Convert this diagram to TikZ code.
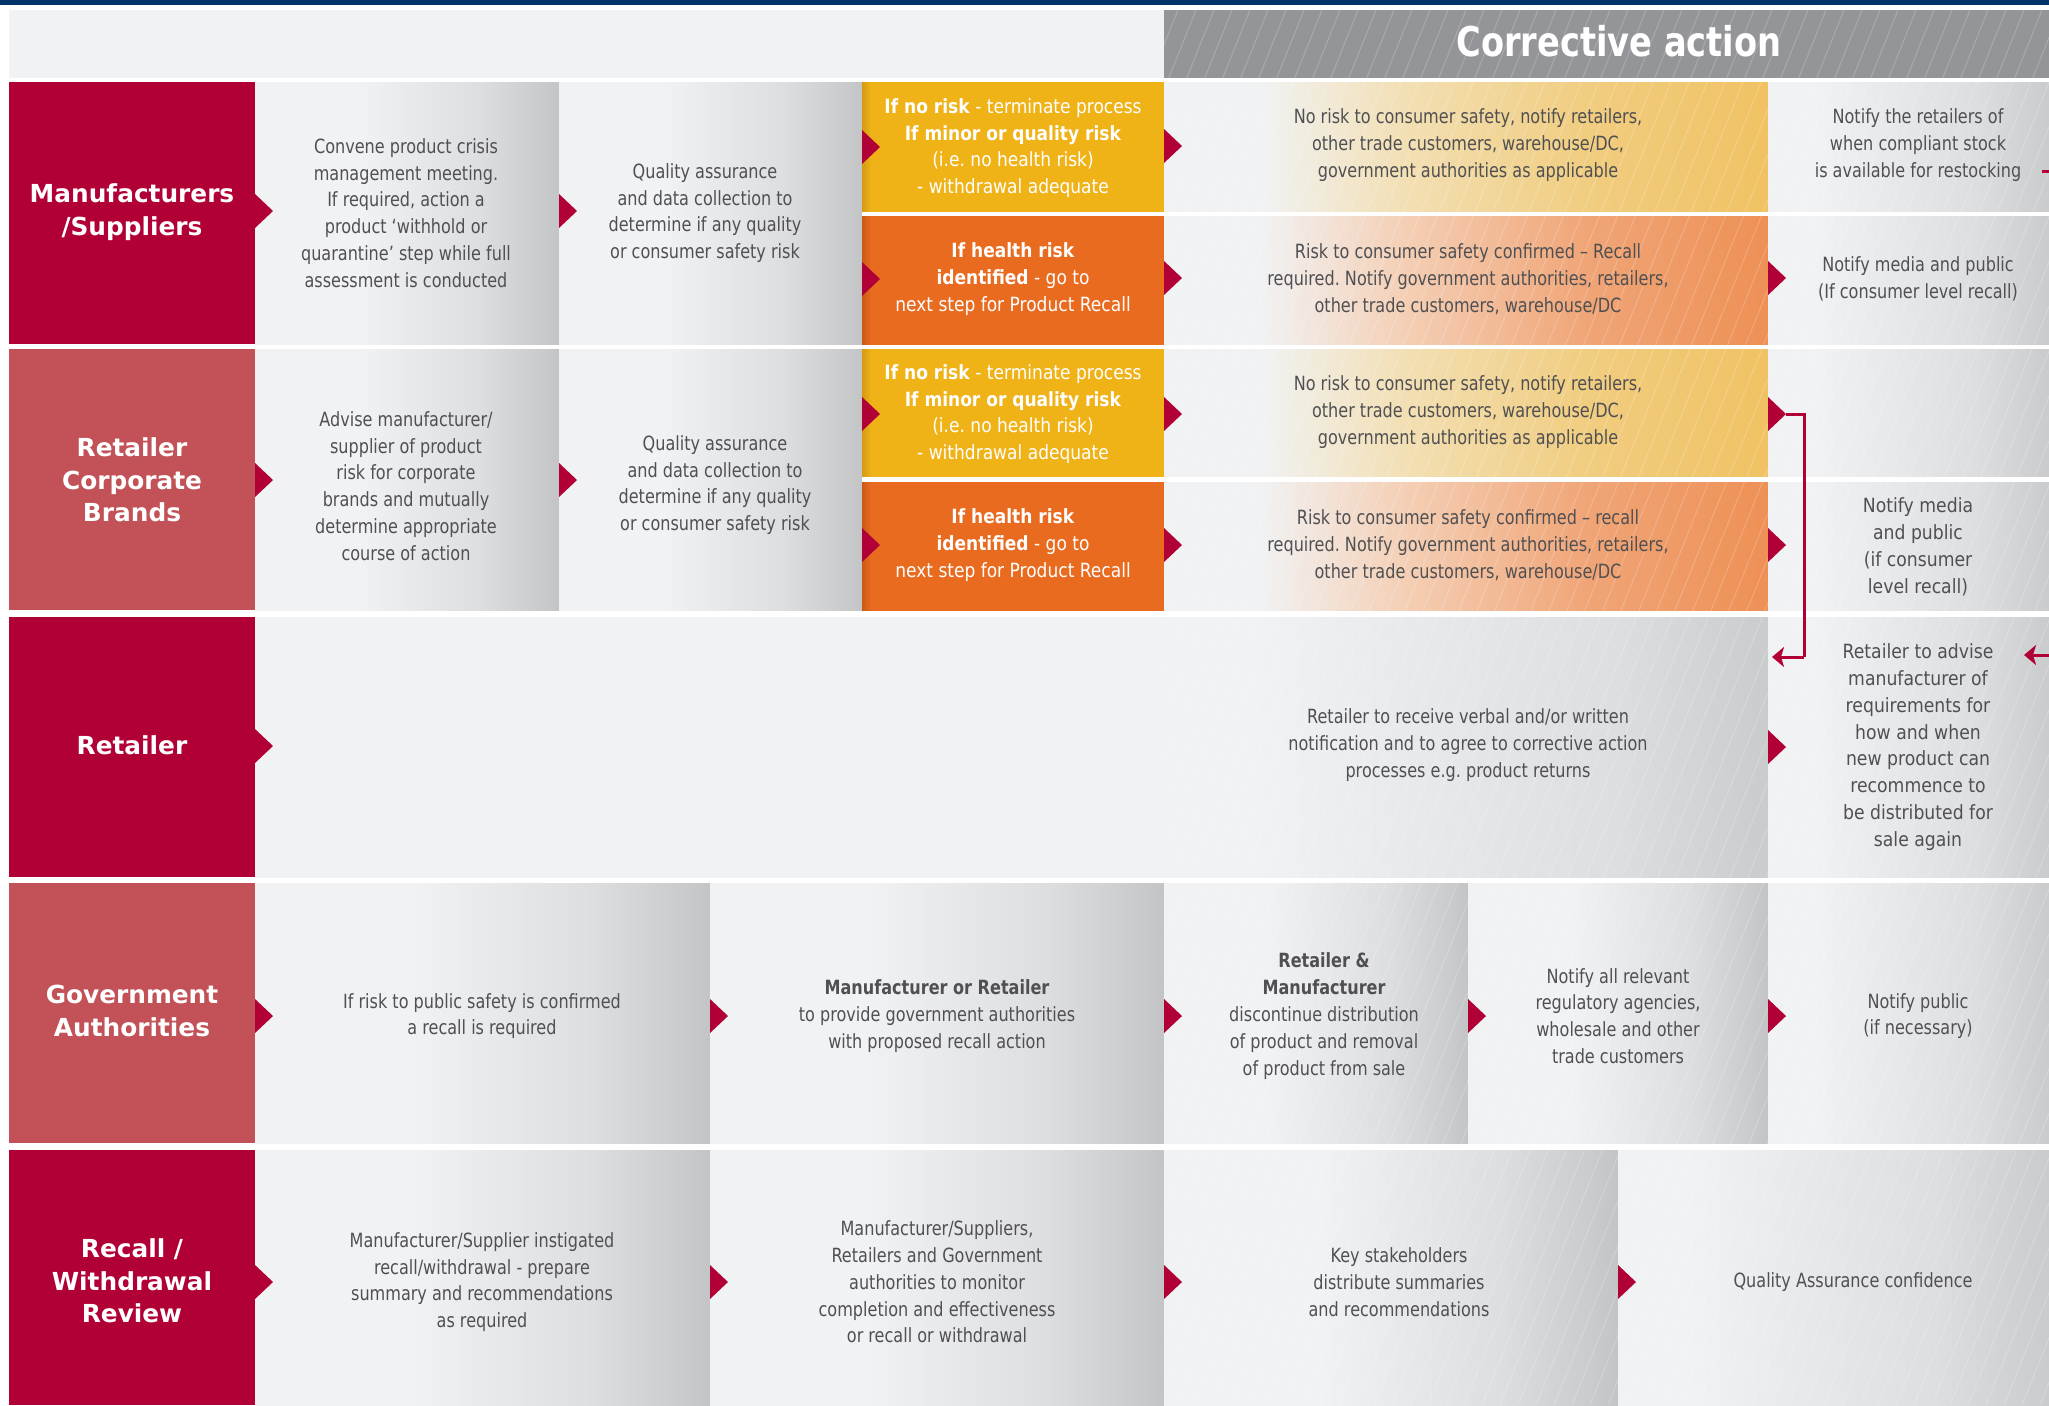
\documentclass[tikz,border=0pt]{standalone}
\usepackage{fontspec}
\setmainfont{DejaVu Sans}
\newfontfamily\bodyf{DejaVu Sans}[FakeStretch=0.82]
\newfontfamily\boxf{DejaVu Sans}[FakeStretch=0.87]
\newfontfamily\widef{DejaVu Sans}[FakeStretch=0.88]
\frenchspacing
\usetikzlibrary{fit,arrows.meta}
\definecolor{navy}{HTML}{003468}
\definecolor{crim}{HTML}{B10036}
\definecolor{lred}{HTML}{C25257}
\definecolor{hdgray}{HTML}{939598}
\definecolor{hdlight}{HTML}{F1F2F3}
\definecolor{tgray}{HTML}{505052}
\definecolor{yel}{HTML}{EFB217}
\definecolor{yeld}{HTML}{D49B12}
\definecolor{ora}{HTML}{E96B1F}
\definecolor{orad}{HTML}{C95A19}
\definecolor{gA}{HTML}{F1F2F3}
\definecolor{gB}{HTML}{DDDEE0}
\definecolor{gC}{HTML}{CACBCD}
\definecolor{gD}{HTML}{C3C4C6}
\definecolor{yA}{HTML}{F2DFB3}
\definecolor{yB}{HTML}{F1CD80}
\definecolor{yC}{HTML}{F0C263}
\definecolor{oA}{HTML}{F4CFB5}
\definecolor{oB}{HTML}{F0A577}
\definecolor{oC}{HTML}{EE9056}
\pgfdeclarehorizontalshading{grayc}{100bp}{color(0bp)=(gA); color(25bp)=(gA); color(42bp)=(gA); color(62bp)=(gB); color(72bp)=(gC); color(75bp)=(gD); color(100bp)=(gD)}
\pgfdeclarehorizontalshading{sixc}{100bp}{color(0bp)=(gA); color(25bp)=(gA); color(33bp)=(gA); color(62bp)=(gB); color(75bp)=(gC); color(100bp)=(gC)}
\pgfdeclarehorizontalshading{yelc}{100bp}{color(0bp)=(gA); color(25bp)=(gA); color(33bp)=(gA); color(45bp)=(yA); color(60bp)=(yB); color(75bp)=(yC); color(100bp)=(yC)}
\pgfdeclarehorizontalshading{orac}{100bp}{color(0bp)=(gA); color(25bp)=(gA); color(33bp)=(gA); color(45bp)=(oA); color(60bp)=(oB); color(75bp)=(oC); color(100bp)=(oC)}
\pgfdeclarehorizontalshading{retc}{100bp}{color(0bp)=(gA); color(25bp)=(gA); color(58bp)=(gA); color(70bp)=(gB); color(75bp)=(gC); color(100bp)=(gC)}
\pgfdeclarehorizontalshading{yelbox}{100bp}{color(0bp)=(yeld); color(25bp)=(yeld); color(26.5bp)=(yel); color(100bp)=(yel)}
\pgfdeclarehorizontalshading{orabox}{100bp}{color(0bp)=(orad); color(25bp)=(orad); color(26.5bp)=(ora); color(100bp)=(ora)}
\tikzset{
  cellbox/.style={inner sep=0pt, outer sep=0pt, draw=none},
  gcell/.style={cellbox, shade, shading=grayc},
  scell/.style={cellbox, shade, shading=sixc},
  ycell/.style={cellbox, shade, shading=yelc},
  ocell/.style={cellbox, shade, shading=orac},
  rcell/.style={cellbox, shade, shading=retc},
  ybox/.style={cellbox, shade, shading=yelbox},
  obox/.style={cellbox, shade, shading=orabox},
  labdark/.style={cellbox, fill=crim},
  lablight/.style={cellbox, fill=lred},
  labtxt/.style={font=\fontsize{12.4}{16.3}\selectfont\bfseries, text=white, align=center, inner sep=0pt},
  txt/.style={font=\bodyf\fontsize{9.8}{13.4}\selectfont, text=tgray, align=center, inner sep=0pt},
  wtxt/.style={font=\widef\fontsize{9.8}{13.4}\selectfont, text=tgray, align=center, inner sep=0pt},
  btxt/.style={font=\boxf\fontsize{9.8}{13.4}\selectfont, text=white, align=center, inner sep=0pt},
  conn/.style={draw=crim, line width=1.5pt},
  hatchline/.style={draw=white, opacity=0.2, line width=0.5pt}
}
\newcommand\cell[6]{\node[fit={(#2,#3) (#4,#5)}, #6] (#1) {};}
\newcommand\atri[2]{\fill[crim] ({#1},{#2-17}) -- ++(18,17) -- ++(-18,17) -- cycle;}
\begin{document}
\begin{tikzpicture}[x=0.5pt, y=-0.5pt]
\useasboundingbox (0,0) rectangle (2049,1405);
\fill[white] (0,0) rectangle (2049,1405);
% top bar and header
\fill[navy] (0,0) rectangle (2049,5);
\cell{hdl}{9}{10}{1164}{78}{cellbox, fill=hdlight}
\cell{hdg}{1164}{10}{2049}{78}{cellbox, fill=hdgray}
% row 1
\cell{L1}{9}{82}{255}{344}{labdark}
\cell{c12}{255}{82}{559}{344}{gcell}
\cell{c13}{559}{82}{862}{344}{gcell}
\cell{c14y}{862}{82}{1164}{211}{ybox}
\cell{c14o}{862}{216}{1164}{344}{obox}
\cell{c15y}{1164}{82}{1768}{211}{ycell}
\cell{c15o}{1164}{216}{1768}{344}{ocell}
\cell{c16y}{1768}{82}{2049}{211}{scell}
\cell{c16o}{1768}{216}{2049}{344}{scell}
% row 2
\cell{L2}{9}{349}{255}{610}{lablight}
\cell{c22}{255}{349}{559}{610}{gcell}
\cell{c23}{559}{349}{862}{610}{gcell}
\cell{c24y}{862}{349}{1164}{476}{ybox}
\cell{c24o}{862}{482}{1164}{610}{obox}
\cell{c25y}{1164}{349}{1768}{476}{ycell}
\cell{c25o}{1164}{482}{1768}{610}{ocell}
\cell{c26y}{1768}{349}{2049}{476}{scell}
\cell{c26o}{1768}{482}{2049}{610}{scell}
% row 3
\cell{L3}{9}{617}{255}{877}{labdark}
\cell{c32}{255}{617}{1768}{877}{rcell}
\cell{c36}{1768}{617}{2049}{877}{scell}
% row 4
\cell{L4}{9}{883}{255}{1143}{lablight}
\cell{c42}{255}{883}{710}{1143}{gcell}
\cell{c43}{710}{883}{1164}{1143}{gcell}
\cell{c44}{1164}{883}{1468}{1143}{gcell}
\cell{c45}{1468}{883}{1768}{1143}{gcell}
\cell{c46}{1768}{883}{2049}{1143}{scell}
% row 5
\cell{L5}{9}{1150}{255}{1405}{labdark}
\cell{c52}{255}{1150}{710}{1405}{gcell}
\cell{c53}{710}{1150}{1164}{1405}{gcell}
\cell{c54}{1164}{1150}{1618}{1405}{gcell}
\cell{c55}{1618}{1150}{2049}{1405}{scell}
% hatching on the right part
\begin{scope}
\clip (1164,10) rectangle (2049,1405);
\foreach \i in {0,...,80} {\draw[hatchline] ({600+\i*18},1405) -- ++(560,-1395);}
\end{scope}
% arrow triangles
\atri{255}{211}\atri{559}{211}\atri{862}{147}\atri{862}{279}\atri{1164}{146}\atri{1164}{278}\atri{1768}{278}
\atri{255}{480}\atri{559}{480}\atri{862}{414}\atri{862}{545}\atri{1164}{414}\atri{1164}{545}\atri{1768}{414}\atri{1768}{545}
\atri{255}{746}\atri{1768}{747}
\atri{255}{1016}\atri{710}{1016}\atri{1164}{1016}\atri{1468}{1016}\atri{1768}{1016}
\atri{255}{1282}\atri{710}{1282}\atri{1164}{1282}\atri{1618}{1282}
% connector from row 2 to retailer row
\coordinate (k1) at (1786,414);
\coordinate (k2) at (1804,657);
\coordinate (k3) at (1772,657);
\draw[conn] (k1) -| (k2);
\draw[conn, -{Stealth[length=6pt,width=10pt,inset=1.5pt]}] (k2) -- (k3);
% cut-off connectors at right edge
\coordinate (e1) at (2042,171);
\coordinate (e2) at (2049,171);
\coordinate (e3) at (2049,655);
\coordinate (e4) at (2024,655);
\draw[conn] (e1) -- (e2);
\draw[conn, -{Stealth[length=6pt,width=10pt,inset=1.5pt]}] (e3) -- (e4);
% header text
\node[font=\bodyf\fontsize{20.5}{24}\selectfont\bfseries, text=white, inner sep=0pt] (hdt) at (1619,41) {Corrective action};
% labels
\node[labtxt] (l1) at (132,212) {Manufacturers\\/Suppliers};
\node[labtxt] (l2) at (132,480) {Retailer\\Corporate\\Brands};
\node[labtxt] (l3) at (132,745) {Retailer};
\node[labtxt] (l4) at (132,1011) {Government\\Authorities};
\node[labtxt] (l5) at (132,1281) {Recall /\\Withdrawal\\Review};
% row 1 texts
\node[txt] (t12) at (406,213) {Convene product crisis\\management meeting.\\If required, action a\\product ‘withhold or\\quarantine’ step while full\\assessment is conducted};
\node[txt] (t13) at (705,213) {Quality assurance\\and data collection to\\determine if any quality\\or consumer safety risk};
\node[btxt] (t14y) at (1013,148) {\textbf{If no risk} - terminate process\\\textbf{If minor or quality risk}\\(i.e. no health risk)\\- withdrawal adequate};
\node[btxt] (t14o) at (1013,279) {\textbf{If health risk}\\\textbf{identified} - go to\\next step for Product Recall};
\node[txt] (t15y) at (1468,145) {No risk to consumer safety, notify retailers,\\other trade customers, warehouse/DC,\\government authorities as applicable};
\node[txt] (t15o) at (1468,279) {Risk to consumer safety confirmed – Recall\\required. Notify government authorities, retailers,\\other trade customers, warehouse/DC};
\node[txt] (t16y) at (1918,145) {Notify the retailers of\\when compliant stock\\is available for restocking};
\node[txt] (t16o) at (1918,279) {Notify media and public\\(If consumer level recall)};
% row 2 texts
\node[txt] (t22) at (406,486) {Advise manufacturer/\\supplier of product\\risk for corporate\\brands and mutually\\determine appropriate\\course of action};
\node[txt] (t23) at (715,485) {Quality assurance\\and data collection to\\determine if any quality\\or consumer safety risk};
\node[btxt] (t24y) at (1013,414) {\textbf{If no risk} - terminate process\\\textbf{If minor or quality risk}\\(i.e. no health risk)\\- withdrawal adequate};
\node[btxt] (t24o) at (1013,545) {\textbf{If health risk}\\\textbf{identified} - go to\\next step for Product Recall};
\node[txt] (t25y) at (1468,412) {No risk to consumer safety, notify retailers,\\other trade customers, warehouse/DC,\\government authorities as applicable};
\node[txt] (t25o) at (1468,545) {Risk to consumer safety confirmed – recall\\required. Notify government authorities, retailers,\\other trade customers, warehouse/DC};
\node[wtxt] (t26o) at (1918,547) {Notify media\\and public\\(if consumer\\level recall)};
% row 3 texts
\node[txt] (t32) at (1468,745) {Retailer to receive verbal and/or written\\notification and to agree to corrective action\\processes e.g. product returns};
\node[wtxt] (t36) at (1918,747) {Retailer to advise\\manufacturer of\\requirements for\\how and when\\new product can\\recommence to\\be distributed for\\sale again};
% row 4 texts
\node[txt] (t42) at (482,1016) {If risk to public safety is confirmed\\a recall is required};
\node[txt] (t43) at (937,1016) {\textbf{Manufacturer or Retailer}\\to provide government authorities\\with proposed recall action};
\node[txt] (t44) at (1324,1016) {\textbf{Retailer \&}\\\textbf{Manufacturer}\\discontinue distribution\\of product and removal\\of product from sale};
\node[txt] (t45) at (1618,1016) {Notify all relevant\\regulatory agencies,\\wholesale and other\\trade customers};
\node[txt] (t46) at (1918,1016) {Notify public\\(if necessary)};
% row 5 texts
\node[txt] (t52) at (482,1282) {Manufacturer/Supplier instigated\\recall/withdrawal - prepare\\summary and recommendations\\as required};
\node[txt] (t53) at (937,1282) {Manufacturer/Suppliers,\\Retailers and Government\\authorities to monitor\\completion and effectiveness\\or recall or withdrawal};
\node[txt] (t54) at (1399,1282) {Key stakeholders\\distribute summaries\\and recommendations};
\node[txt] (t55) at (1853,1282) {Quality Assurance confidence};
\end{tikzpicture}
\end{document}
